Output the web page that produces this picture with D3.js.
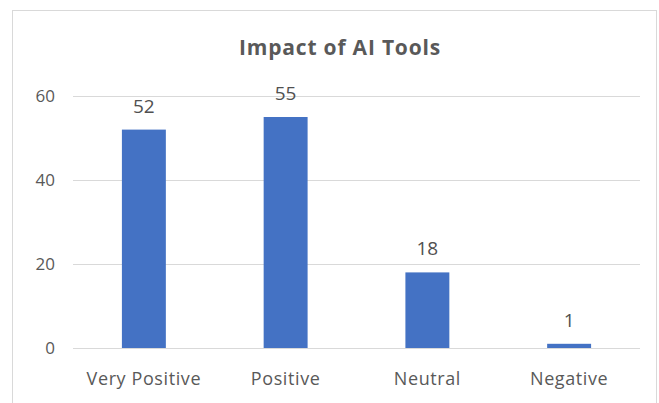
<!DOCTYPE html>
<html>
<head>
<meta charset="utf-8">
<script src="https://cdn.jsdelivr.net/npm/d3@7"></script>
<style>
  html, body { margin: 0; padding: 0; background: #fff; }
  svg { display: block; font-family: "Open Sans", "Liberation Sans", sans-serif; }
</style>
</head>
<body>
<svg id="chart" width="659" height="403"></svg>
<script>
const categories = ["Very Positive", "Positive", "Neutral", "Negative"];
const values = [52, 55, 18, 1];
const yTicks = [0, 20, 40, 60];
const title = "Impact of AI Tools";

const svg = d3.select("#chart");
const W = 659, H = 403;
const margin = { left: 73, right: 19, top: 96, bottom: 55 };

// outer chart border
svg.append("rect")
  .attr("x", 12.5).attr("y", 10.5)
  .attr("width", 644).attr("height", 400)
  .attr("fill", "#fff").attr("stroke", "#d9d9d9").attr("stroke-width", 1);

const x = d3.scaleBand()
  .domain(categories)
  .range([margin.left, W - margin.right])
  .paddingInner(0.69)
  .paddingOuter(0.345);

const y = d3.scaleLinear()
  .domain([0, 60])
  .range([H - margin.bottom, margin.top]);

// gridlines
svg.append("g")
  .selectAll("line")
  .data(yTicks)
  .join("line")
  .attr("x1", margin.left).attr("x2", W - margin.right)
  .attr("y1", d => Math.round(y(d)) + 0.5).attr("y2", d => Math.round(y(d)) + 0.5)
  .attr("stroke", "#d9d9d9").attr("stroke-width", 1);

// y axis labels
const yAxis = d3.axisLeft(y).tickValues(yTicks).tickSize(0).tickPadding(0);
const yg = svg.append("g").attr("transform", `translate(${margin.left - 18},0)`).call(yAxis);
yg.select(".domain").remove();
yg.selectAll("text")
  .attr("fill", "#595959").style("font-size", "17px")
  .style("font-family", "'Open Sans', sans-serif");

// bars
svg.append("g")
  .selectAll("rect")
  .data(values)
  .join("rect")
  .attr("x", (d, i) => x(categories[i]))
  .attr("width", x.bandwidth())
  .attr("y", d => y(d))
  .attr("height", d => y(0) - y(d))
  .attr("fill", "#4472C4");

// data labels
svg.append("g")
  .selectAll("text")
  .data(values)
  .join("text")
  .attr("x", (d, i) => x(categories[i]) + x.bandwidth() / 2)
  .attr("y", d => y(d) - 17)
  .attr("text-anchor", "middle")
  .attr("fill", "#505050")
  .style("font-size", "19px")
  .text(d => d);

// x axis labels
const xAxis = d3.axisBottom(x).tickSize(0).tickPadding(0);
const xg = svg.append("g").attr("transform", `translate(0,${y(0) + 24})`).call(xAxis);
xg.select(".domain").remove();
xg.selectAll("text")
  .attr("fill", "#595959").style("font-size", "18px")
  .style("letter-spacing", "0.6px")
  .style("font-family", "'Open Sans', sans-serif");

// title
svg.append("text")
  .attr("x", 340).attr("y", 55)
  .attr("text-anchor", "middle")
  .attr("fill", "#595959")
  .style("font-size", "21px").style("font-weight", "bold")
  .style("letter-spacing", "0.8px")
  .text(title);
</script>
</body>
</html>
